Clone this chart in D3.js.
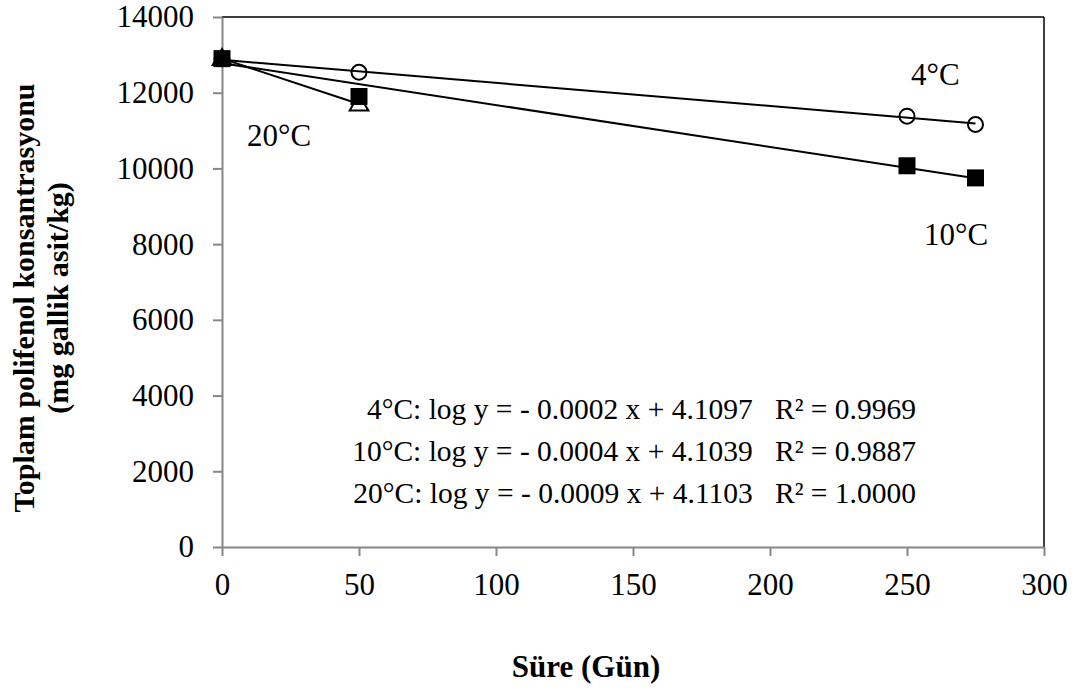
<!DOCTYPE html>
<html>
<head>
<meta charset="utf-8">
<script src="https://cdn.jsdelivr.net/npm/d3@7"></script>
<style>
  body { margin: 0; background: #fff; }
  svg, svg text { font-family: "Liberation Serif", "Times New Roman", serif; }
</style>
</head>
<body>
<div class="chart"></div>
<script>
// values
var days4 = [0, 50, 250, 275];
var vals4 = [12900, 12540, 11380, 11160];
var days10 = [0, 50, 250, 275];
var vals10 = [12900, 11900, 10070, 9750];
var days20 = [0, 50];
var vals20 = [12900, 11700];

// trendline end points (as drawn in the picture)
var trend4 = [[0, 12870], [275, 11190]];
var trend10 = [[0, 12780], [275, 9740]];
var trend20 = [[0, 12900], [50, 11700]];

var xTicks = [0, 50, 100, 150, 200, 250, 300];
var yTicks = [0, 2000, 4000, 6000, 8000, 10000, 12000, 14000];

var equations = [
  '4°C: log y = - 0.0002 x + 4.1097   R² = 0.9969',
  '10°C: log y = - 0.0004 x + 4.1039   R² = 0.9887',
  '20°C: log y = - 0.0009 x + 4.1103   R² = 1.0000'
];

var serif = '"Liberation Serif", "Times New Roman", serif';

var margin = { top: 17, right: 40, bottom: 143, left: 222 };
var width = 1084 - margin.left - margin.right;
var height = 690 - margin.top - margin.bottom;

var svg = d3.select('.chart')
  .append('svg')
    .attr('width', 1084)
    .attr('height', 690)
    .attr('font-family', serif)
  .append('g')
    .attr('transform', 'translate(' + margin.left + ', ' + margin.top + ')');

var xScale = d3.scaleLinear().domain([0, 300]).range([0, width]);
var yScale = d3.scaleLinear().domain([0, 14000]).range([height, 0]);

var grey = '#868686';

// frame: top and right in black
svg.append('line')
  .attr('x1', 0).attr('x2', width).attr('y1', 0).attr('y2', 0)
  .attr('stroke', '#000').attr('stroke-width', 1.5);
svg.append('line')
  .attr('x1', width).attr('x2', width).attr('y1', 0).attr('y2', height)
  .attr('stroke', '#000').attr('stroke-width', 1.5);

var yAxis = d3.axisLeft(yScale)
  .tickValues(yTicks)
  .tickFormat(d3.format('d'))
  .tickSizeInner(9)
  .tickSizeOuter(0)
  .tickPadding(19);
var gy = svg.append('g').call(yAxis);

var xAxis = d3.axisBottom(xScale)
  .tickValues(xTicks)
  .tickFormat(d3.format('d'))
  .tickSizeInner(9)
  .tickSizeOuter(0)
  .tickPadding(17);
var gx = svg.append('g')
  .attr('transform', `translate(0, ${height})`)
  .call(xAxis);

[gx, gy].forEach(function(g) {
  g.attr('font-family', serif).attr('font-size', 31);
  g.select('.domain').attr('stroke', grey).attr('stroke-width', 2);
  g.selectAll('.tick line').attr('stroke', grey).attr('stroke-width', 2);
  g.selectAll('.tick text')
    .attr('fill', '#000')
    .style('font-family', serif)
    .style('font-size', '31px');
});

// markers
var s = 17;
svg.selectAll('.tri')
  .data(days20.map((d, i) => [d, vals20[i]]))
  .enter()
  .append('path')
    .attr('class', 'tri')
    .attr('d', d3.symbol().type(d3.symbolTriangle).size(150))
    .attr('transform', d => `translate(${xScale(d[0])}, ${yScale(d[1]) + 1})`)
    .attr('fill', '#fff')
    .attr('stroke', '#000')
    .attr('stroke-width', 2);

svg.selectAll('.circ')
  .data(days4.map((d, i) => [d, vals4[i]]))
  .enter()
  .append('circle')
    .attr('class', 'circ')
    .attr('cx', d => xScale(d[0]))
    .attr('cy', d => yScale(d[1]))
    .attr('r', 7.5)
    .attr('fill', 'none')
    .attr('stroke', '#000')
    .attr('stroke-width', 2);

svg.selectAll('.sq')
  .data(days10.map((d, i) => [d, vals10[i]]))
  .enter()
  .append('rect')
    .attr('class', 'sq')
    .attr('x', d => xScale(d[0]) - s / 2)
    .attr('y', d => yScale(d[1]) - s / 2)
    .attr('width', s)
    .attr('height', s)
    .attr('fill', '#000');

// trendlines
var line = d3.line().x(d => xScale(d[0])).y(d => yScale(d[1]));
[trend4, trend10, trend20].forEach(function(t) {
  svg.append('path')
    .attr('d', line(t))
    .attr('fill', 'none')
    .attr('stroke', '#000')
    .attr('stroke-width', 2);
});

// series labels
function label(txt, x, y, size) {
  svg.append('text')
    .attr('x', x - margin.left)
    .attr('y', y - margin.top)
    .style('font-family', serif)
    .style('font-size', size + 'px')
    .style('white-space', 'pre')
    .text(txt);
}
label('4°C', 911, 85, 31);
label('20°C', 247, 146, 31);
label('10°C', 924, 245, 31);

// equations, right aligned
equations.forEach(function(e, i) {
  svg.append('text')
    .attr('x', 916 - margin.left)
    .attr('y', 419 + i * 42 - margin.top)
    .attr('text-anchor', 'end')
    .style('font-family', serif)
    .style('font-size', '29.5px')
    .style('white-space', 'pre')
    .text(e);
});

// axis titles
svg.append('text')
  .attr('x', 586 - margin.left)
  .attr('y', 677 - margin.top)
  .attr('text-anchor', 'middle')
  .style('font-family', serif)
  .style('font-size', '31px')
  .style('font-weight', 'bold')
  .text('Süre (Gün)');

var yt = svg.append('text')
  .attr('transform', `translate(${34 - margin.left}, ${298 - margin.top}) rotate(-90)`)
  .attr('text-anchor', 'middle')
  .style('font-family', serif)
  .style('font-size', '30px')
  .style('font-weight', 'bold');
yt.append('tspan').attr('x', 0).attr('y', 0).text('Toplam polifenol konsantrasyonu');
yt.append('tspan').attr('x', 0).attr('y', 34).text('(mg gallik asit/kg)');
</script>
</body>
</html>
